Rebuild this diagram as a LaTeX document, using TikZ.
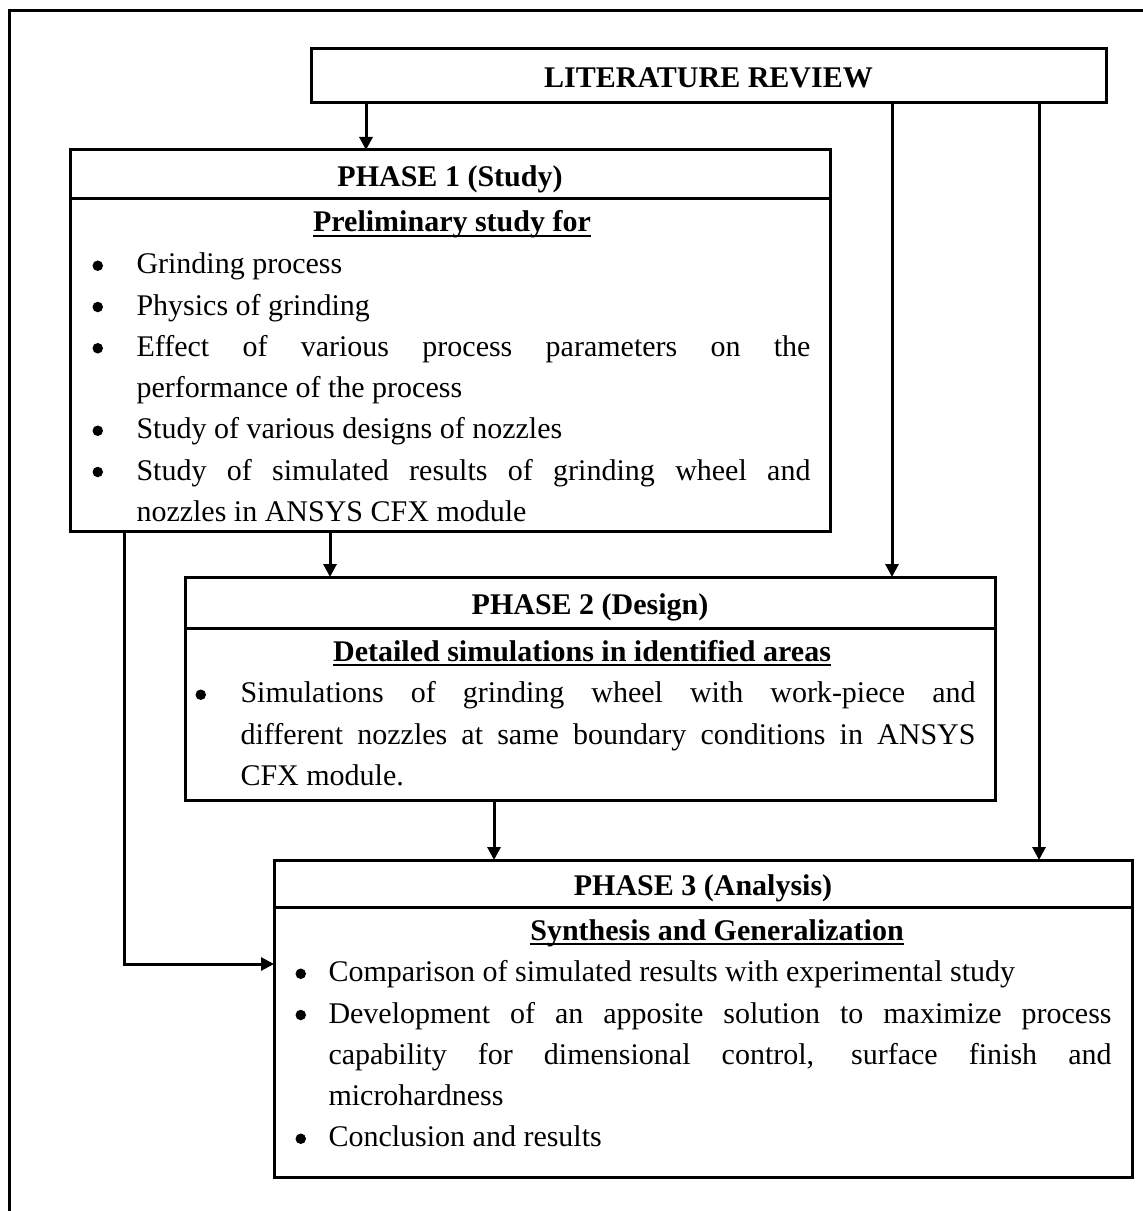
\documentclass[tikz,border=0pt]{standalone}
\usepackage{fontspec}
\setmainfont{Liberation Serif}
\usepackage{enumitem}
\usetikzlibrary{arrows.meta,positioning}
\newcommand{\boxfont}{\fontsize{12}{16.5}\selectfont}
\newcommand{\subline}[1]{\setbox0\hbox{#1}\rlap{\rule[-2pt]{\wd0}{0.75pt}}\box0}
\newcommand{\phbullet}{\tikz[baseline=-3.2pt]\fill (0,0) circle (2.1pt);}
\tikzstyle{frame}=[draw,line width=1.2pt]
\tikzstyle{titlebox}=[draw,line width=1.2pt,inner sep=0pt,outer sep=0pt,anchor=north west,text height=9.6pt,text depth=0pt,font=\boxfont\bfseries]
\tikzstyle{bodybox}=[draw,line width=1.2pt,inner sep=0pt,outer sep=0pt,anchor=north west]
\tikzstyle{subtitle}=[inner sep=0pt,anchor=base,font=\boxfont\bfseries]
\tikzstyle{itemtext}=[inner sep=0pt,anchor=north west,align=justify,font=\boxfont]
\tikzstyle{arrow}=[draw,line width=1.2pt,-{Triangle[length=5.2pt,width=5.2pt]}]
\setlist[itemize]{nosep,align=left,labelsep=0pt,label=\phbullet}

\begin{document}
\begin{tikzpicture}[x=0.4pt,y=-0.4pt]
    \useasboundingbox (0,0) rectangle (1143,1211);
    \clip (0,0) rectangle (1143,1211);
    % outer frame (cut at the right and at the bottom)
    \draw[frame] (9,1240) -- (9,11) -- (1170,11);

    % literature review on top
    \node[titlebox,minimum width=318pt,minimum height=21.6pt] (lit) at (311,49) {LITERATURE REVIEW};

    % phase 1
    \node[titlebox,minimum width=304pt,minimum height=19.6pt] (ph1) at (70,150) {PHASE 1 (Study)};
    \node[bodybox,minimum width=304pt,minimum height=132.8pt] (ph1body) at (ph1.south west) {};
    \node[subtitle] (ph1sub) at ([xshift=0.8pt,yshift=-13.2pt]ph1body.north) {\subline{Preliminary study for}};
    \coordinate (ph1l) at (ph1sub.base -| ph1body.west);
    \node[itemtext,text width=296pt] (ph1list) at (ph1l) {%
        \begin{itemize}[leftmargin=26.4pt,labelindent=8.8pt,labelwidth=17.6pt]
        \item Grinding process
        \item Physics of grinding
        \item Effect of various process parameters on the\linebreak performance of the process
        \item Study of various designs of nozzles
        \item Study of simulated results of grinding wheel and\linebreak nozzles in ANSYS CFX module
        \end{itemize}};

    % phase 2
    \node[titlebox,minimum width=324pt,minimum height=20.4pt] (ph2) at (185,577) {PHASE 2 (Design)};
    \node[bodybox,minimum width=324pt,minimum height=68.8pt] (ph2body) at (ph2.south west) {};
    \node[subtitle] (ph2sub) at ([xshift=-3.2pt,yshift=-13.2pt]ph2body.north) {\subline{Detailed simulations in identified areas}};
    \coordinate (ph2l) at (ph2sub.base -| ph2body.west);
    \node[itemtext,text width=316pt] (ph2list) at (ph2l) {%
        \begin{itemize}[leftmargin=22pt,labelindent=4pt,labelwidth=18pt]
        \item Simulations of grinding wheel with work-piece and\linebreak different nozzles at same boundary conditions in ANSYS\linebreak CFX module.
        \end{itemize}};

    % phase 3
    \node[titlebox,minimum width=343.2pt,minimum height=18.8pt] (ph3) at (274,860) {PHASE 3 (Analysis)};
    \node[bodybox,minimum width=343.2pt,minimum height=108pt] (ph3body) at (ph3.south west) {};
    \node[subtitle] (ph3sub) at ([xshift=5.6pt,yshift=-13.2pt]ph3body.north) {\subline{Synthesis and Generalization}};
    \coordinate (ph3l) at (ph3sub.base -| ph3body.west);
    \node[itemtext,text width=334.8pt] (ph3list) at (ph3l) {%
        \begin{itemize}[leftmargin=21.6pt,labelindent=8.4pt,labelwidth=13.2pt]
        \item Comparison of simulated results with experimental study
        \item Development of an apposite solution to maximize process\linebreak capability for dimensional control, surface finish and\linebreak microhardness
        \item Conclusion and results
        \end{itemize}};

    % arrows out of the literature review
    \foreach \dx/\target [count=\i] in {22pt/ph1, 232.4pt/ph2, 291.2pt/ph3}
    {
        \coordinate (lit\i) at ([xshift=\dx]lit.south west);
        \draw[arrow] (lit\i) -- (lit\i |- \target.north);
    }

    % arrows between the phases
    \coordinate (ph1down) at ([xshift=104pt]ph1body.south west);
    \draw[arrow] (ph1down) -- (ph1down |- ph2.north);
    \coordinate (ph2down) at ([xshift=123.6pt]ph2body.south west);
    \draw[arrow] (ph2down) -- (ph2down |- ph3.north);
    \coordinate (ph1out) at ([xshift=21.6pt]ph1body.south west);
    \coordinate (ph3in) at ([yshift=-22.8pt]ph3body.north west);
    \draw[arrow] (ph1out) |- (ph3in);
\end{tikzpicture}
\end{document}
